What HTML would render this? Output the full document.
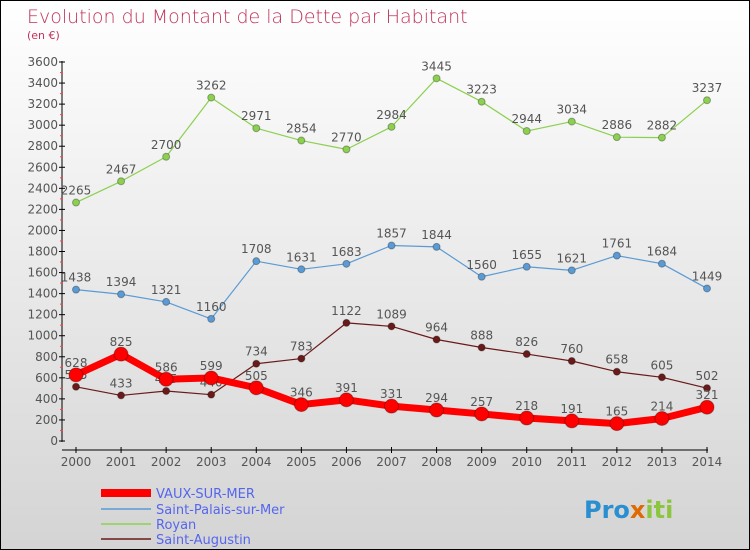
<!DOCTYPE html>
<html><head><meta charset="utf-8"><style>
body{margin:0}
#c{width:748px;height:548px;border:1px solid #000;background:linear-gradient(#fff,#d4d4d4);position:relative;font-family:"DejaVu Sans","Liberation Sans",sans-serif;overflow:hidden}
svg{position:absolute;left:0;top:0}
</style></head><body>
<div id="c">
<svg id="s" width="748" height="548" font-size="12">
<text x="26" y="22" font-size="19" fill="#c0335a" font-weight="200">Evolution du Montant de la Dette par Habitant</text>
<text x="26" y="38" font-size="11" fill="#c0335a">(en €)</text>
<g id="ax"></g><g id="ser"></g>
<g>
<line x1="100" y1="492" x2="150" y2="492" stroke="#f00" stroke-width="8"/>
<text x="155" y="497" fill="#5566ee" font-size="13">VAUX-SUR-MER</text>
<line x1="100" y1="508" x2="150" y2="508" stroke="#5a9bd5" stroke-width="1.5"/>
<text x="155" y="513" fill="#5566ee" font-size="13">Saint-Palais-sur-Mer</text>
<line x1="100" y1="523" x2="150" y2="523" stroke="#8cd050" stroke-width="1.5"/>
<text x="155" y="528" fill="#5566ee" font-size="13">Royan</text>
<line x1="100" y1="538" x2="150" y2="538" stroke="#6b1a1a" stroke-width="1.5"/>
<text x="155" y="543" fill="#5566ee" font-size="13">Saint-Augustin</text>
</g>
<text x="583" y="517" font-size="24" font-weight="bold" fill="#2a8fd0">Pro<tspan fill="#e06a00">x</tspan><tspan fill="#8cc63f">iti</tspan></text>
</svg></div>
<script>
const years=[2000,2001,2002,2003,2004,2005,2006,2007,2008,2009,2010,2011,2012,2013,2014];
const yTicks=[0,200,400,600,800,1000,1200,1400,1600,1800,2000,2200,2400,2600,2800,3000,3200,3400,3600];
const vaux=[628,825,586,599,505,346,391,331,294,257,218,191,165,214,321];
const palais=[1438,1394,1321,1160,1708,1631,1683,1857,1844,1560,1655,1621,1761,1684,1449];
const royan=[2265,2467,2700,3262,2971,2854,2770,2984,3445,3223,2944,3034,2886,2882,3237];
const augustin=[515,433,475,440,734,783,1122,1089,964,888,826,760,658,605,502];
const NS="http://www.w3.org/2000/svg";
const X=i=>75+i*(631/14), Y=v=>440-v*(379/3600);
function mk(t,a,p){const e=document.createElementNS(NS,t);for(const k in a)e.setAttribute(k,a[k]);p.appendChild(e);return e;}
const ax=document.getElementById('ax'),ser=document.getElementById('ser');
let l=mk('line',{x1:61,y1:60,x2:61,y2:441,stroke:'#000'},ax);


l=mk('line',{x1:61,y1:449,x2:707,y2:449,stroke:'#000'},ax);


yTicks.forEach(v=>{mk('line',{x1:58,y1:Y(v),x2:64,y2:Y(v),stroke:'#000'},ax);
 if(v<3600) mk('line',{x1:59,y1:Y(v+100),x2:62,y2:Y(v+100),stroke:'#f44'},ax);
 const t=mk('text',{x:57,y:Y(v)+4,'text-anchor':'end',fill:'#555'},ax);t.textContent=v;
 
 });
years.forEach((y,i)=>{mk('line',{x1:X(i),y1:446,x2:X(i),y2:452,stroke:'#000'},ax);
 const t=mk('text',{x:X(i),y:465,'text-anchor':'middle',fill:'#555'},ax);t.textContent=y;
 
 });
function series(d,col,w,r,name){const g=mk('g',{},ser);
 
 
 mk('polyline',{points:d.map((v,i)=>X(i)+','+Y(v)).join(' '),fill:'none',stroke:col,'stroke-width':w,'stroke-linejoin':'round'},g);
 d.forEach((v,i)=>{const c=mk('circle',{cx:X(i),cy:Y(v),r:r,fill:col,stroke:'rgba(0,0,0,0.3)'},g);
  
  
  const t=mk('text',{x:X(i),y:Y(v)-8,'text-anchor':'middle',fill:'#555'},g);t.textContent=v;
  
  });}
series(augustin,'#6b1a1a',1.2,3.5,'saint-augustin');
series(royan,'#8cd050',1.2,3.5,'royan');
series(palais,'#5a9bd5',1.2,3.5,'saint-palais');
series(vaux,'#f00',7,7,'vaux');
</script></body></html>
